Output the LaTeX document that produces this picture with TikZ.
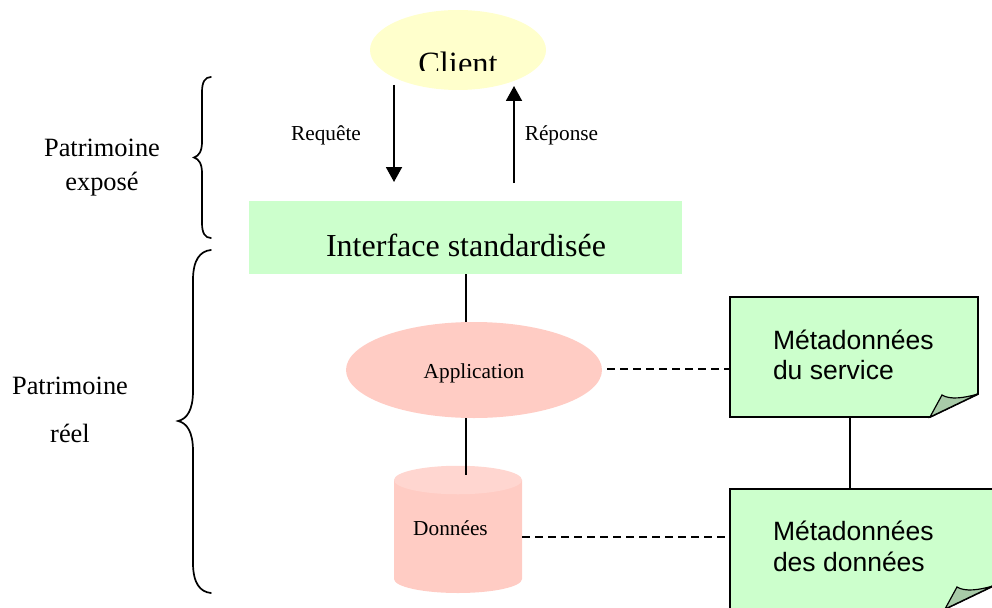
\documentclass[tikz,border=0pt]{standalone}
\usepackage{fontspec}
\setmainfont{Liberation Serif}
\newfontfamily\notefont{Liberation Sans}
\usetikzlibrary{shapes.geometric,arrows.meta}
\definecolor{clientfill}{HTML}{FFFFCC}
\definecolor{ifacefill}{HTML}{CCFFCC}
\definecolor{pinkfill}{HTML}{FFCCC4}
\definecolor{pinktop}{HTML}{FFD6D0}
\definecolor{foldfill}{HTML}{A8CBA8}
\newcommand{\fs}[1]{\fontsize{#1}{#1}\selectfont}
\tikzset{
  x=1pt,y=-1pt,
  lbl/.style={anchor=base,inner sep=0pt,outer sep=0pt},
  small/.style={lbl,font=\fs{21.3}},
  mid/.style={lbl,font=\fs{26.4}},
  big/.style={lbl,font=\fs{32}},
  notetext/.style={lbl,anchor=base west,font=\notefont\fs{26.5}},
  notebox/.style={rectangle,inner sep=0pt,outer sep=0pt,minimum height=120pt},
  conn/.style={line width=1.7pt,black},
  dashconn/.style={line width=1.5pt,black,dash pattern=on 8pt off 5pt},
  arrowconn/.style={line width=1.9pt,black,-{Triangle[length=15pt,width=16pt]}},
  bracepath/.style={line width=1.7pt,black,line cap=round}
}
\newcommand{\drawnote}[1]{%
  \draw[line width=1.9pt,black,fill=ifacefill,line join=miter]
    (#1.north west) -- (#1.north east) -- ([yshift=23pt]#1.south east)
    -- ([xshift=-48pt]#1.south east) -- (#1.south west) -- cycle;
  \draw[line width=1.2pt,black,fill=foldfill]
    ([xshift=-48pt]#1.south east)
    -- ([xshift=-36pt,yshift=22pt]#1.south east)
    .. controls ([xshift=-28pt,yshift=17pt]#1.south east) and ([xshift=-14pt,yshift=19pt]#1.south east) ..
    ([yshift=23pt]#1.south east) -- cycle;
}
\begin{document}
\begin{tikzpicture}
\useasboundingbox (0,0) rectangle (992,607);
\clip (0,0) rectangle (992,607);

% client
\node[ellipse,fill=clientfill,inner sep=0pt,minimum width=176pt,minimum height=80pt] (client) at (458,50) {};
\begin{scope}
  \clip (350,0) rectangle (560,71);
  \node[big,font=\fs{32.5}] (clientlabel) at (458,75) {Client};
\end{scope}

% interface
\node[rectangle,fill=ifacefill,inner sep=0pt,minimum width=433pt,minimum height=73pt] (iface) at (465.5,237.5) {};
\node[big] (ifacelabel) at (466,256) {Interface standardisée};

% arrows
\coordinate (reqtop) at (394,85);
\coordinate (reqbot) at (394,182);
\coordinate (reptop) at (514,86);
\coordinate (repbot) at (514,183);
\draw[arrowconn] (reqtop) -- (reqbot);
\draw[arrowconn] (repbot) -- (reptop);
\node[lbl,font=\fs{21.3}] (req) at (326,140) {Requête};
\node[lbl,font=\fs{21.3}] (rep) at (561.5,140) {Réponse};

% application
\node[ellipse,fill=pinkfill,inner sep=0pt,minimum width=256pt,minimum height=96pt] (app) at (474,370) {};
\node[small] (applabel) at (474,378) {Application};

% cylinder
\fill[pinkfill] (394,480) -- (394,579) arc[start angle=180,end angle=0,x radius=64,y radius=14] -- (522,480) -- cycle;
\node[ellipse,fill=pinktop,inner sep=0pt,minimum width=128pt,minimum height=28.5pt] (data) at (458,480) {};
\node[small] (datalabel) at (450.5,535) {Données};

% notes
\node[notebox,minimum width=248pt] (note1) at (854,357) {};
\node[notebox,minimum width=263pt] (note2) at (861.5,549) {};
\drawnote{note1}
\drawnote{note2}
\node[notetext] (n1a) at (773,349) {Métadonnées};
\node[notetext] (n1b) at (773,379) {du service};
\node[notetext] (n2a) at (773,540) {Métadonnées};
\node[notetext] (n2b) at (773,571) {des données};

% connectors
\coordinate (ifaceport) at (466,274);
\coordinate (appin) at (466,322);
\coordinate (appout) at (466,418);
\coordinate (datain) at (466,475);
\coordinate (dataport) at (522,537);
\coordinate (n1port) at (850,417);
\coordinate (n2port) at (850,489);
\draw[conn] (ifaceport) -- (appin);
\draw[conn] (appout) -- (datain);
\draw[conn] (n1port) -- (n2port);
\draw[dashconn] ([xshift=5pt,yshift=1pt]app.east) -- ([yshift=1pt]app.east -| note1.west);
\draw[dashconn] (dataport) -- (dataport -| note2.west);

% braces
\draw[bracepath] (211,77) .. controls (205,77) and (202,82) .. (202,92)
  -- (202,142) .. controls (202,151) and (199,156) .. (194,157.5)
  .. controls (199,159) and (202,164) .. (202,173)
  -- (202,223) .. controls (202,233) and (205,238) .. (211,238);
\draw[bracepath] (211,250) .. controls (200,251) and (193,260) .. (193,280)
  -- (193,391) .. controls (193,410) and (187,419) .. (178,421)
  .. controls (187,423) and (193,432) .. (193,451)
  -- (193,563) .. controls (193,583) and (200,592) .. (211,593);

% labels
\node[mid] (pe1) at (102,156) {Patrimoine};
\node[mid] (pe2) at (102,190) {exposé};
\node[mid] (pr1) at (70,394) {Patrimoine};
\node[mid] (pr2) at (70,442) {réel};
\end{tikzpicture}
\end{document}
